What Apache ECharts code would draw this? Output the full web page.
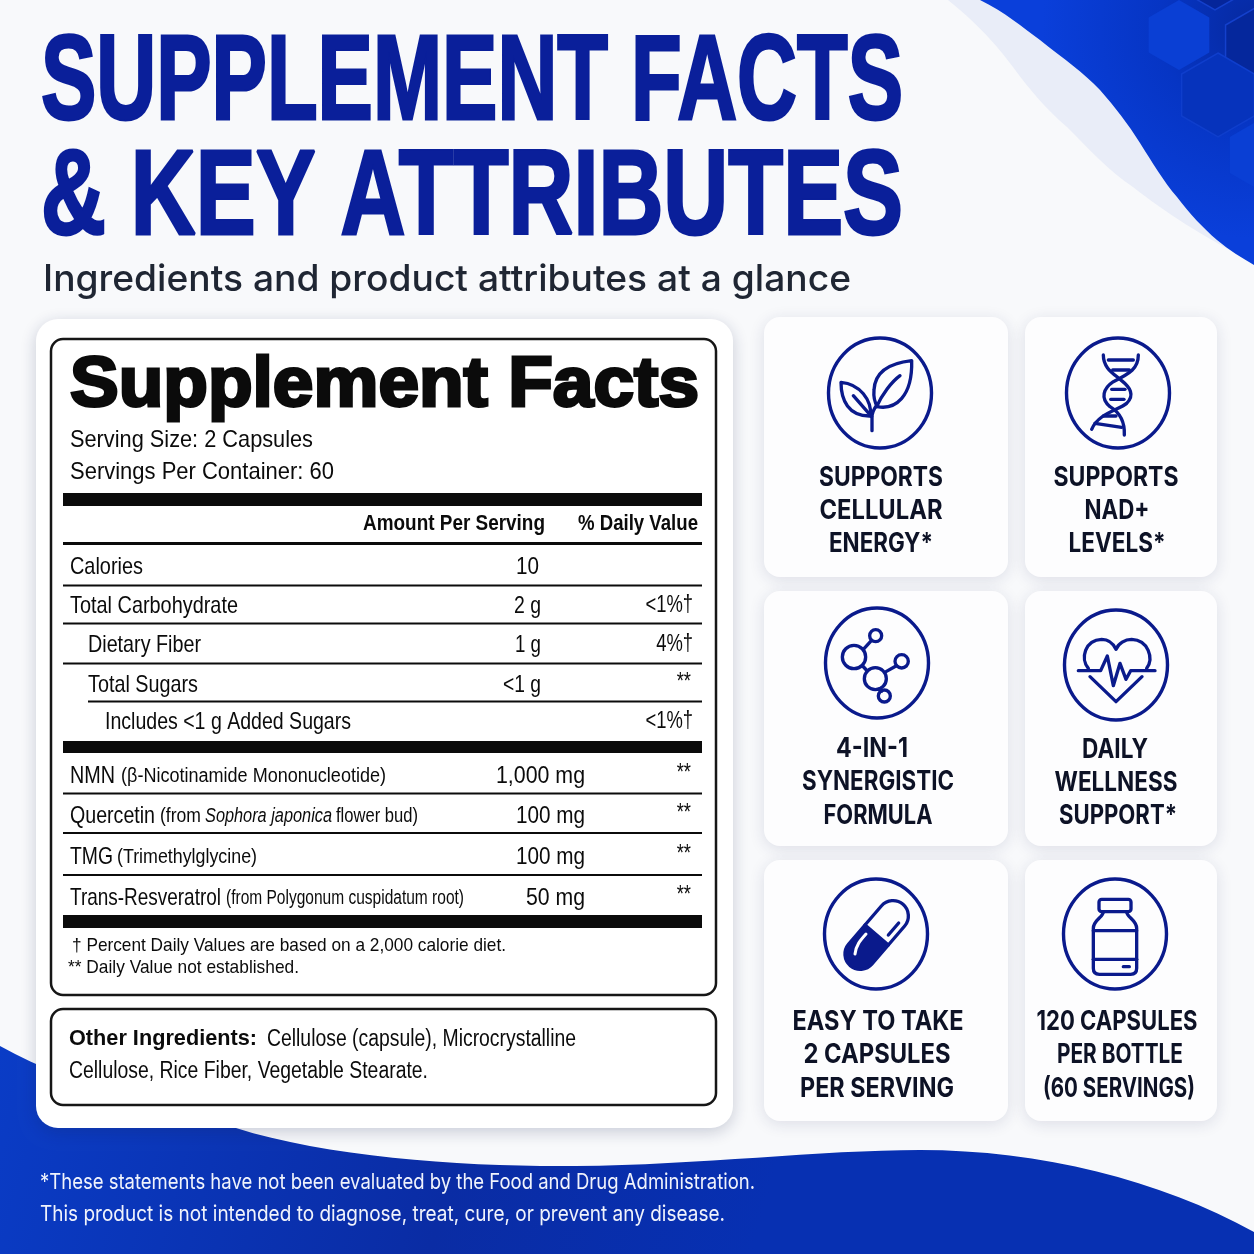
<!DOCTYPE html>
<html>
<head>
<meta charset="utf-8">
<title>Supplement Facts</title>
<script src="https://cdn.jsdelivr.net/npm/echarts@6/dist/echarts.min.js"></script>
<style>
html, body { margin: 0; padding: 0; background: #f8f9fb; }
#main { width: 1254px; height: 1254px; }
</style>
</head>
<body>
<div id="main"></div>
<script>
// label values
var headline = ['SUPPLEMENT FACTS', '& KEY ATTRIBUTES'];
var subhead = 'Ingredients and product attributes at a glance';
var panelTitle = 'Supplement Facts';
var servingLines = ['Serving Size: 2 Capsules', 'Servings Per Container: 60'];
var columnHeads = ['Amount Per Serving', '% Daily Value'];

var factNames = ['Calories', 'Total Carbohydrate', 'Dietary Fiber', 'Total Sugars', 'Includes <1 g Added Sugars'];
var factAmounts = ['10', '2 g', '1 g', '<1 g', ''];
var factDaily = ['', '<1%†', '4%†', '**', '<1%†'];

var ingredientNames = ['NMN', 'Quercetin', 'TMG', 'Trans-Resveratrol'];
var ingredientNotes = ['(β-Nicotinamide Mononucleotide)', '', '(Trimethylglycine)', '(from Polygonum cuspidatum root)'];
var quercetinNote = ['(from', 'Sophora japonica', 'flower bud)'];
var ingredientAmounts = ['1,000 mg', '100 mg', '100 mg', '50 mg'];
var ingredientDaily = ['**', '**', '**', '**'];

var footnotes = ['† Percent Daily Values are based on a 2,000 calorie diet.', '** Daily Value not established.'];
var otherLabel = 'Other Ingredients:';
var otherLines = ['Cellulose (capsule), Microcrystalline', 'Cellulose, Rice Fiber, Vegetable Stearate.'];
var disclaimer = ['*These statements have not been evaluated by the Food and Drug Administration.', 'This product is not intended to diagnose, treat, cure, or prevent any disease.'];

var badgeLines = [
    ['SUPPORTS', 'CELLULAR', 'ENERGY*'],
    ['SUPPORTS', 'NAD+', 'LEVELS*'],
    ['4-IN-1', 'SYNERGISTIC', 'FORMULA'],
    ['DAILY', 'WELLNESS', 'SUPPORT*'],
    ['EASY TO TAKE', '2 CAPSULES', 'PER SERVING'],
    ['120 CAPSULES', 'PER BOTTLE', '(60 SERVINGS)']
];

// layout
var factY = [566, 605, 644, 684, 721];
var factX = [70, 70, 88, 88, 105];
var factW = [73, 168, 113, 110, 246];
var amountW = [23, 27, 26, 38];
var ingredientY = [775, 815, 856, 897];
var nameW = [45, 85, 43, 151];
var noteX = [121, 160, 117, 226];
var noteW = [265, 41, 140, 238];
var amountMgW = [89, 69, 69, 59];
var badgeCards = [[764, 317, 244, 260], [1025, 317, 192, 260], [764, 591, 244, 255], [1025, 591, 192, 255], [764, 860, 244, 261], [1025, 860, 192, 261]];
var badgeCircles = [[880, 393], [1118, 393], [877, 663], [1116, 665], [876, 934], [1115, 934]];
var badgeTextX = [[881, 881, 881], [1116, 1117, 1117], [872, 878, 878], [1115, 1116, 1118], [878, 877, 877], [1117, 1120, 1119]];
var badgeTextY = [[477, 510, 543], [477, 510, 543], [748, 781, 815], [749, 782, 815], [1021, 1054, 1088], [1021, 1054, 1088]];
var badgeTextW = [[124, 123, 104], [125, 65, 97], [72, 152, 109], [66, 123, 118], [171, 147, 154], [161, 126, 152]];

var NAVY = '#0a1a8c';
var TITLE = '#0a1f9a';
var INK = '#0d1226';
var BLACK = '#0b0b0b';
var BODY = 'Liberation Sans';
var elements = [];

var measureCtx = document.createElement('canvas').getContext('2d');
var pathCount = 0;

function text(str, x, y, font, opts) {
    opts = opts || {};
    var sx = opts.sx || 1;
    if (opts.w) {
        measureCtx.font = font;
        sx = opts.w / measureCtx.measureText(str).width;
    }
    elements.push({
        type: 'text', x: x, y: y + 1, scaleX: sx, silent: true,
        style: {
            text: str, font: font, fill: opts.fill || BLACK,
            align: opts.align || 'left', verticalAlign: 'middle',
            stroke: opts.stroke || null, lineWidth: opts.lineWidth || 0
        }
    });
}

function rect(x, y, w, h, style, r) {
    elements.push({ type: 'rect', silent: true, shape: { x: x, y: y, width: w, height: h, r: r || 0 }, style: style });
}

function rule(x1, x2, y, h) {
    rect(x1, y - h / 2, x2 - x1, h, { fill: BLACK });
}

function pathEl(d, style) {
    var name = 'iconPath' + (pathCount++);
    echarts.graphic.registerShape(name, echarts.graphic.extendPath(d));
    return { type: name, silent: true, style: style };
}

function hex(cx, cy, r, fill, stroke) {
    var pts = [];
    for (var i = 0; i < 6; i++) {
        var a = Math.PI / 3 * i - Math.PI / 2;
        pts.push([cx + r * Math.cos(a), cy + r * Math.sin(a)]);
    }
    elements.push({ type: 'polygon', silent: true, shape: { points: pts }, style: { fill: fill, stroke: stroke || null, lineWidth: 1.5 } });
}

// background swooshes
elements.push(pathEl('M948 0 C985 30 1000 50 1013 67 C1030 90 1045 108 1067 127 C1090 150 1110 172 1133 187 C1165 212 1200 235 1254 263 L1254 0 Z', { fill: '#e9edf8' }));
elements.push(pathEl('M980 0 C1005 12 1022 27 1040 40 C1065 60 1083 72 1100 90 C1115 107 1128 124 1140 143 C1152 162 1164 182 1177 197 C1190 214 1203 228 1217 240 C1229 250 1242 258 1254 265 L1254 0 Z', {
    fill: new echarts.graphic.RadialGradient(1, 0.1, 0.8, [
        { offset: 0, color: '#06299f' },
        { offset: 0.45, color: '#0635c4' },
        { offset: 1, color: '#0a3fda' }
    ])
}));
hex(1215, -30, 40, '#05259a', '#1440cc');
hex(1255, 42, 34, '#05279c', '#1440cc');
hex(1179, 35, 35, '#0a3fd4');
hex(1218, 95, 42, '#0633bc', '#0f3ecc');
hex(1261, 155, 36, '#0a3fd4');
elements.push(pathEl('M0 1046 C80 1090 170 1110 236 1128 C330 1158 470 1167 576 1166 C700 1165 820 1150 920 1150 C1040 1150 1160 1180 1254 1232 L1254 1254 L0 1254 Z', {
    fill: new echarts.graphic.LinearGradient(0, 0, 0.6, 1, [
        { offset: 0, color: '#0a3cc6' },
        { offset: 0.6, color: '#0a2ca4' },
        { offset: 1, color: '#0730b2' }
    ])
}));

// headline
text(headline[0], 41, 85, '900 120px "' + BODY + '"', { w: 862, fill: TITLE, stroke: TITLE, lineWidth: 3 });
text(headline[1], 41, 199.5, '900 120px "' + BODY + '"', { w: 862, fill: TITLE, stroke: TITLE, lineWidth: 3 });
text(subhead, 43, 279, '500 37px Inter', { w: 808, fill: '#1f2633' });

// left panel
rect(36, 319, 697, 809, { fill: '#ffffff', shadowBlur: 16, shadowColor: 'rgba(25,35,80,0.22)', shadowOffsetY: 4 }, 22);
rect(51, 339, 665, 656, { fill: '#ffffff', stroke: '#161616', lineWidth: 2.5 }, 12);
rect(51, 1009, 665, 96, { fill: '#ffffff', stroke: '#161616', lineWidth: 2.5 }, 12);

text(panelTitle, 70, 385.5, 'bold 70px "' + BODY + '"', { w: 629, stroke: BLACK, lineWidth: 3 });
text(servingLines[0], 70, 439, '24px "' + BODY + '"', { w: 243 });
text(servingLines[1], 70, 471, '24px "' + BODY + '"', { w: 264 });

rule(63, 702, 499.5, 13);
text(columnHeads[0], 363, 523, 'bold 22px "' + BODY + '"', { w: 182 });
text(columnHeads[1], 578, 523, 'bold 22px "' + BODY + '"', { w: 120 });
rule(63, 702, 543.5, 3);

var BODY_SX = 0.8;
for (var i = 0; i < factNames.length; i++) {
    text(factNames[i], factX[i], factY[i], '24px "' + BODY + '"', { w: factW[i] });
    if (factAmounts[i]) {
        text(factAmounts[i], i === 0 ? 539 : 541, factY[i], '24px "' + BODY + '"', { w: amountW[i], align: 'right' });
    }
    if (factDaily[i]) {
        var starred = factDaily[i] === '**';
        text(factDaily[i], starred ? 691 : 693, factY[i] + (starred ? -2 : 0), '23px "' + BODY + '"', { sx: BODY_SX, align: 'right' });
    }
}
rule(63, 702, 585.5, 2);
rule(63, 702, 623.5, 2);
rule(63, 702, 663.5, 2);
rule(88, 702, 701.5, 2);
rule(63, 702, 747, 12);

// ingredient rows, name then smaller note
for (var j = 0; j < ingredientNames.length; j++) {
    var rowY = ingredientY[j];
    text(ingredientNames[j], 70, rowY, '24px "' + BODY + '"', { w: nameW[j] });
    if (j === 1) {
        // italic species name inside the note
        text(quercetinNote[0], noteX[j], rowY + 1, '19.5px "' + BODY + '"', { w: noteW[j] });
        text(quercetinNote[1], 205, rowY + 1, 'italic 19.5px "' + BODY + '"', { w: 127 });
        text(quercetinNote[2], 336, rowY + 1, '19.5px "' + BODY + '"', { w: 82 });
    } else {
        text(ingredientNotes[j], noteX[j], rowY + 1, '19.5px "' + BODY + '"', { w: noteW[j] });
    }
    text(ingredientAmounts[j], 585, rowY, '24px "' + BODY + '"', { w: amountMgW[j], align: 'right' });
    text(ingredientDaily[j], 691, rowY - 2, '23px "' + BODY + '"', { sx: BODY_SX, align: 'right' });
}
rule(63, 702, 793.5, 2);
rule(63, 702, 833, 2);
rule(63, 702, 875, 2);
rule(63, 702, 921.5, 13);

text(footnotes[0], 72, 945, '19px "' + BODY + '"', { w: 434 });
text(footnotes[1], 68, 967, '19px "' + BODY + '"', { w: 231 });

text(otherLabel, 69, 1038, 'bold 22.5px "' + BODY + '"', { w: 188 });
text(otherLines[0], 267, 1039, '23px "' + BODY + '"', { w: 309 });
text(otherLines[1], 69, 1071, '23px "' + BODY + '"', { w: 359 });

// bottom note
text(disclaimer[0], 40, 1181, '22px Inter', { w: 715, fill: '#f0f3fc' });
text(disclaimer[1], 40, 1213, '22px Inter', { w: 685, fill: '#f0f3fc' });

// right badges
var line = { fill: null, stroke: NAVY, lineWidth: 10, lineCap: 'round', lineJoin: 'round' };
function ln(d) { return pathEl(d, line); }
function ringAt(cx, cy, r) { return { type: 'circle', silent: true, shape: { cx: cx, cy: cy, r: r }, style: line }; }

var icons = [
    // leaf
    { oy: 310, c: [
        ln('M336 362 L336 322 C336 305 343 295 352 283'),
        ln('M455 152 C400 158 345 180 342 240 C340 262 346 280 352 290 C405 300 458 262 455 152 Z'),
        ln('M420 197 C395 215 365 255 350 290'),
        ln('M243 217 C243 270 265 320 332 318 C335 270 300 222 243 217 Z'),
        ln('M280 257 L335 320')
    ] },
    // dna
    { oy: 310, c: [
        ln('M1030 135 C1030 175 1060 190 1085 212 C1110 232 1125 255 1100 280 C1075 300 1015 310 995 358'),
        ln('M1135 135 C1135 175 1110 190 1060 215 C1030 235 1020 265 1050 290 C1075 305 1095 330 1093 375'),
        ln('M1045 150 L1120 150'), ln('M1058 180 L1108 180'), ln('M1055 238 L1095 238'),
        ln('M1052 268 L1092 268'), ln('M1030 318 L1068 318'), ln('M1005 340 L1085 352')
    ] },
    // molecule
    { oy: 590, c: [
        ringAt(282, 201, 35), ringAt(346, 266, 33), ringAt(347, 137, 18), ringAt(425, 214, 20), ringAt(373, 318, 18),
        ln('M310 178 L334 152'), ln('M308 228 L322 243'), ln('M378 245 L408 228'), ln('M357 298 L365 303')
    ] },
    // heart
    { oy: 590, c: [
        ln('M985 235 C960 205 975 150 1025 148 C1050 148 1062 165 1068 178 C1075 160 1095 148 1115 148 C1165 150 1182 205 1160 235'),
        ln('M990 260 L1068 335 L1146 260'),
        ln('M955 242 L1022 242 L1042 198 L1060 287 L1080 220 L1098 268 L1112 242 L1185 242')
    ] },
    // capsule
    { oy: 860, c: [
        pathEl('M315 195 L385 255 L336 312 A46 46 0 0 1 266 252 Z', { fill: NAVY }),
        ln('M266 252 L364 138 A46 46 0 0 1 434 198 L336 312 A46 46 0 0 1 266 252 Z'),
        ln('M315 195 L385 255'),
        ln('M385 225 L416 189'),
        pathEl('M318 222 C302 240 288 255 285 282', { fill: null, stroke: '#ffffff', lineWidth: 9, lineCap: 'round' })
    ] },
    // bottle
    { oy: 860, c: [
        { type: 'rect', silent: true, shape: { x: 1017, y: 118, width: 96, height: 37, r: 8 }, style: line },
        ln('M1030 155 C1030 172 1000 180 1000 205 L1000 325 Q1000 343 1018 343 L1112 343 Q1130 343 1130 325 L1130 205 C1130 180 1100 172 1100 155'),
        ln('M1000 212 L1130 212'), ln('M1000 298 L1130 298'), ln('M1090 320 L1108 320')
    ] }
];

for (var k = 0; k < badgeCards.length; k++) {
    var card = badgeCards[k];
    rect(card[0], card[1], card[2], card[3], { fill: '#fdfdfe', shadowBlur: 16, shadowColor: 'rgba(30,40,90,0.13)', shadowOffsetY: 3 }, 16);
    elements.push({
        type: 'ellipse', silent: true,
        shape: { cx: badgeCircles[k][0], cy: badgeCircles[k][1], rx: 51.5, ry: 55 },
        style: { fill: null, stroke: NAVY, lineWidth: 3.4 }
    });
    elements.push({ type: 'group', x: 760, y: icons[k].oy, scaleX: 1 / 3, scaleY: 1 / 3, silent: true, children: icons[k].c });
    for (var m = 0; m < badgeLines[k].length; m++) {
        text(badgeLines[k][m], badgeTextX[k][m], badgeTextY[k][m], '700 27px Inter', { w: badgeTextW[k][m], align: 'center', fill: INK });
    }
}

var myChart = echarts.init(document.getElementById('main'), null, { renderer: 'canvas' });
myChart.setOption({
    animation: false,
    backgroundColor: '#f8f9fb',
    graphic: { elements: elements }
});
</script>
</body>
</html>
